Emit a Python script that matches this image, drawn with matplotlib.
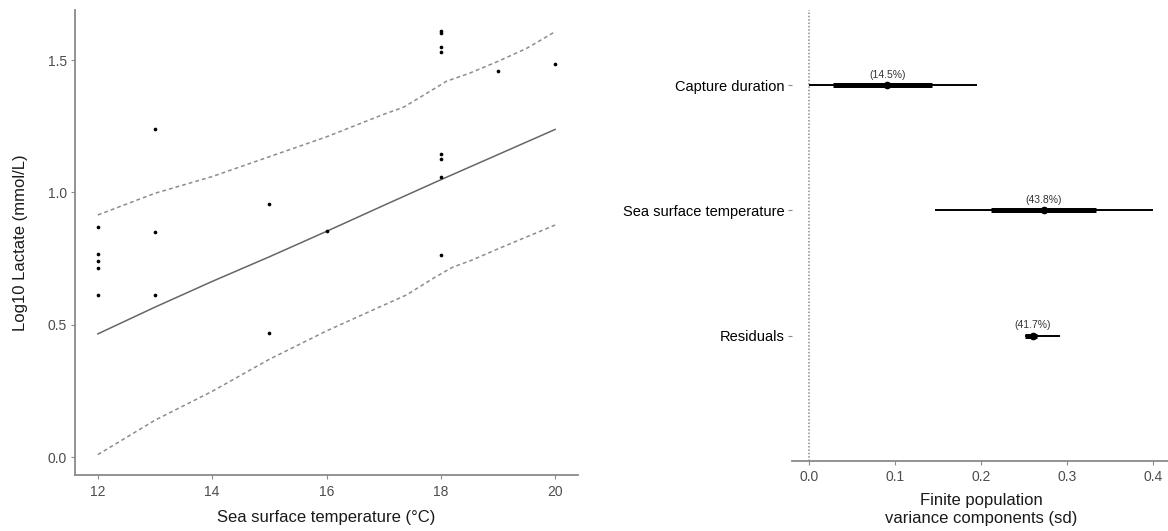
import matplotlib
matplotlib.use('Agg')
from matplotlib import pyplot as plt

plt.rcParams['font.family'] = ['Liberation Sans', 'DejaVu Sans']

# observed log10 lactate vs sea surface temperature
sst = [12, 12, 12, 12, 12, 13, 13, 13, 15, 15, 16,
       18, 18, 18, 18, 18, 18, 18, 18, 19, 20]
lactate = [0.871, 0.769, 0.740, 0.715, 0.613, 1.240, 0.851, 0.613, 0.958, 0.469, 0.854,
           1.609, 1.603, 1.549, 1.529, 1.144, 1.126, 1.057, 0.763, 1.457, 1.486]

# fitted line and interval bands
fit_x = [12, 13, 14, 15, 16, 17, 18, 19, 20]
fit_y = [0.466, 0.567, 0.664, 0.757, 0.853, 0.951, 1.048, 1.143, 1.238]
upper_x = [12, 13, 14, 15, 16, 17, 17.35, 17.75, 18.1, 18.5, 19, 19.5, 20]
upper_y = [0.915, 0.997, 1.06, 1.135, 1.21, 1.295, 1.322, 1.374, 1.42, 1.45, 1.495, 1.544, 1.607]
lower_x = [12, 13, 14, 15, 16, 16.75, 17.4, 17.9, 18.2, 18.55, 19, 20]
lower_y = [0.01, 0.14, 0.249, 0.37, 0.477, 0.55, 0.613, 0.68, 0.717, 0.745, 0.787, 0.877]

# variance components
components = ['Capture duration', 'Sea surface temperature', 'Residuals']
comp_sd = [0.091, 0.273, 0.260]
inner_lo = [0.028, 0.211, 0.251]
inner_hi = [0.143, 0.334, 0.265]
outer_lo = [0.0, 0.146, 0.251]
outer_hi = [0.195, 0.400, 0.292]
comp_pct = ['(14.5%)', '(43.8%)', '(41.7%)']


def main():
	fig = plt.figure(figsize=(11.68, 5.31), dpi=100)
	spine_col = '#8a8a8a'
	tick_col = '#4d4d4d'

	# left panel
	ax = fig.add_axes([75/1168, 1-475/531, (578-75)/1168, (475-10)/531])
	ax.plot(fit_x, fit_y, color='#666666', lw=1.1)
	ax.plot(upper_x, upper_y, color='#8c8c8c', lw=1.1, ls=(0, (2.5, 2)))
	ax.plot(lower_x, lower_y, color='#8c8c8c', lw=1.1, ls=(0, (2.5, 2)))
	ax.scatter(sst, lactate, s=7, color='black', zorder=3, linewidths=0)
	ax.set_xlim(11.6, 20.4)
	ax.set_ylim(-0.067, 1.689)
	ax.set_xticks([12, 14, 16, 18, 20])
	ax.set_yticks([0.0, 0.5, 1.0, 1.5])
	ax.set_yticklabels(['0.0', '0.5', '1.0', '1.5'])
	ax.set_xlabel('Sea surface temperature (°C)', fontsize=12, color='#1a1a1a', labelpad=8)
	ax.set_ylabel('Log10 Lactate (mmol/L)', fontsize=12, color='#1a1a1a', labelpad=14)

	# right panel
	ax2 = fig.add_axes([791.7/1168, 1-460.7/531, (1170.5-791.7)/1168, (460.7-10)/531])
	ypos = [3, 2, 1]
	ax2.axvline(0, color='#8c8c8c', lw=1.1, ls=(0, (1, 1.2)))
	ax2.hlines(ypos, outer_lo, outer_hi, color='black', lw=1.4)
	ax2.hlines(ypos, inner_lo, inner_hi, color='black', lw=3.6)
	ax2.scatter(comp_sd, ypos, s=20, color='black', zorder=3)
	for x, y, t in zip(comp_sd, ypos, comp_pct):
		ax2.annotate(t, (x, y), xytext=(0, 4), textcoords='offset points',
			ha='center', va='bottom', fontsize=7.5, color='#333333')
	ax2.set_xlim(-0.02, 0.42)
	ax2.set_ylim(0.0, 3.6)
	ax2.set_xticks([0.0, 0.1, 0.2, 0.3, 0.4])
	ax2.set_yticks(ypos)
	ax2.set_yticklabels(components, fontsize=10.5, color='black')
	ax2.set_xlabel('Finite population\nvariance components (sd)', fontsize=12,
		color='#1a1a1a', labelpad=6, linespacing=1.25)
	ax2.spines['left'].set_visible(False)

	for a in (ax, ax2):
		a.spines['top'].set_visible(False)
		a.spines['right'].set_visible(False)
		for s in ('left', 'bottom'):
			a.spines[s].set_color(spine_col)
			a.spines[s].set_linewidth(1.3)
		a.tick_params(axis='both', length=3, width=0.8, color=spine_col)
		a.tick_params(axis='x', labelsize=10, labelcolor=tick_col, pad=4)
	ax.tick_params(axis='y', labelsize=10, labelcolor=tick_col, pad=3)
	ax2.tick_params(axis='y', pad=2)

	plt.savefig('out.png', dpi=100)
	plt.close(fig)


if __name__ == '__main__':
	main()
